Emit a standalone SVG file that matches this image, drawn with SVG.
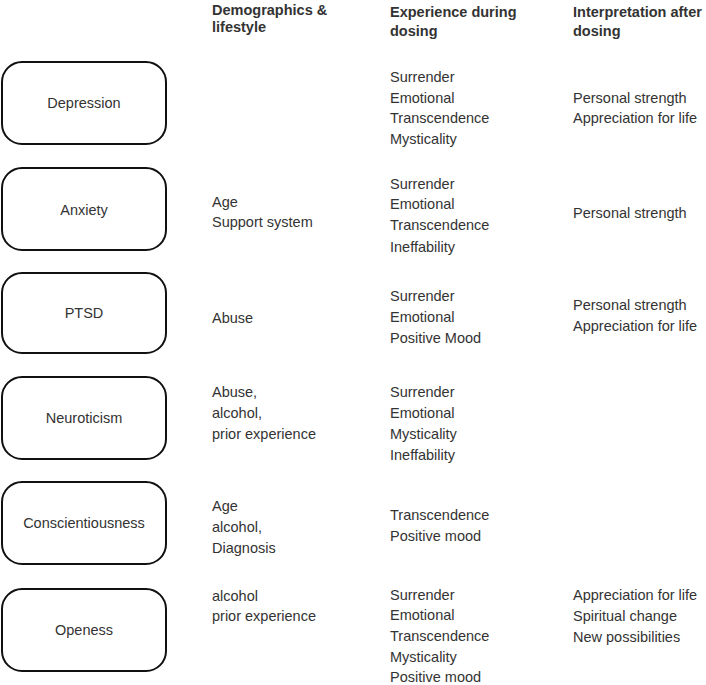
<svg xmlns="http://www.w3.org/2000/svg" width="706" height="685" viewBox="0 0 706 685">
<style>
text{font-family:"Liberation Sans",Arial,sans-serif;font-size:14.5px;fill:#333}
.h{font-weight:bold}
.box{fill:#fff;stroke:#111;stroke-width:2}
.c{text-anchor:middle}
</style>
<rect width="706" height="685" fill="#fff"/>
<g id="headers">
<text class="h" x="212" y="15">Demographics &amp;</text>
<text class="h" x="212" y="32">lifestyle</text>
<text class="h" x="390" y="17">Experience during</text>
<text class="h" x="390" y="36">dosing</text>
<text class="h" x="573" y="17">Interpretation after</text>
<text class="h" x="573" y="36">dosing</text>
</g>
<g id="depression">
<rect class="box" x="2" y="62" width="164" height="82" rx="20"/>
<text class="c" x="84" y="108">Depression</text>
<text x="390" y="82">Surrender</text>
<text x="390" y="103">Emotional</text>
<text x="390" y="123">Transcendence</text>
<text x="390" y="144">Mysticality</text>
<text x="573" y="103">Personal strength</text>
<text x="573" y="123">Appreciation for life</text>
</g>
<g id="anxiety">
<rect class="box" x="2" y="168" width="164" height="82" rx="20"/>
<text class="c" x="84" y="215">Anxiety</text>
<text x="212" y="207">Age</text>
<text x="212" y="227">Support system</text>
<text x="390" y="189">Surrender</text>
<text x="390" y="209">Emotional</text>
<text x="390" y="230">Transcendence</text>
<text x="390" y="252">Ineffability</text>
<text x="573" y="218">Personal strength</text>
</g>
<g id="ptsd">
<rect class="box" x="2" y="273" width="164" height="80" rx="20"/>
<text class="c" x="84" y="318">PTSD</text>
<text x="212" y="323">Abuse</text>
<text x="390" y="301">Surrender</text>
<text x="390" y="322">Emotional</text>
<text x="390" y="343">Positive Mood</text>
<text x="573" y="310">Personal strength</text>
<text x="573" y="331">Appreciation for life</text>
</g>
<g id="neuroticism">
<rect class="box" x="2" y="377" width="164" height="82" rx="20"/>
<text class="c" x="84" y="423">Neuroticism</text>
<text x="212" y="397">Abuse,</text>
<text x="212" y="418">alcohol,</text>
<text x="212" y="439">prior experience</text>
<text x="390" y="397">Surrender</text>
<text x="390" y="418">Emotional</text>
<text x="390" y="439">Mysticality</text>
<text x="390" y="460">Ineffability</text>
</g>
<g id="conscientiousness">
<rect class="box" x="2" y="482" width="164" height="82" rx="20"/>
<text class="c" x="84" y="528">Conscientiousness</text>
<text x="212" y="511">Age</text>
<text x="212" y="532">alcohol,</text>
<text x="212" y="553">Diagnosis</text>
<text x="390" y="520">Transcendence</text>
<text x="390" y="541">Positive mood</text>
</g>
<g id="openess">
<rect class="box" x="2" y="589" width="164" height="82" rx="20"/>
<text class="c" x="84" y="635">Openess</text>
<text x="212" y="601">alcohol</text>
<text x="212" y="621">prior experience</text>
<text x="390" y="600">Surrender</text>
<text x="390" y="620">Emotional</text>
<text x="390" y="641">Transcendence</text>
<text x="390" y="662">Mysticality</text>
<text x="390" y="682">Positive mood</text>
<text x="573" y="600">Appreciation for life</text>
<text x="573" y="621">Spiritual change</text>
<text x="573" y="642">New possibilities</text>
</g>
</svg>
